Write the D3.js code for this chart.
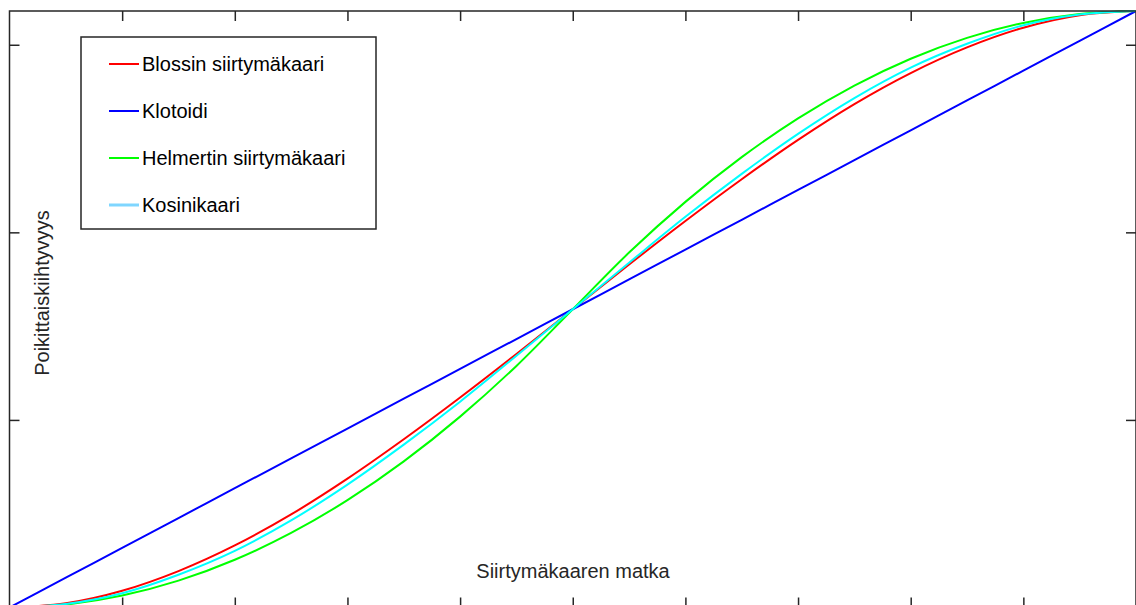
<!DOCTYPE html>
<html>
<head>
<meta charset="utf-8">
<script src="https://cdn.jsdelivr.net/npm/d3@7"></script>
<style>
  html, body { margin: 0; padding: 0; background: #fff; }
  svg { display: block; font-family: "Liberation Sans", Arial, sans-serif; }
</style>
</head>
<body>
<div id="chart"></div>
<script>
// distance along the transition curve (0..100 %)
const distance = [0, 5, 10, 15, 20, 25, 30, 35, 40, 45, 50, 55, 60, 65, 70, 75, 80, 85, 90, 95, 100];

// lateral acceleration as a share of the final value
const bloss    = [0, 0.007, 0.028, 0.061, 0.104, 0.156, 0.216, 0.282, 0.352, 0.425, 0.5, 0.575, 0.648, 0.718, 0.784, 0.844, 0.896, 0.939, 0.972, 0.993, 1];
const klotoidi = [0, 0.05, 0.1, 0.15, 0.2, 0.25, 0.3, 0.35, 0.4, 0.45, 0.5, 0.55, 0.6, 0.65, 0.7, 0.75, 0.8, 0.85, 0.9, 0.95, 1];
const helmert  = [0, 0.005, 0.02, 0.045, 0.08, 0.125, 0.18, 0.245, 0.32, 0.405, 0.5, 0.595, 0.68, 0.755, 0.82, 0.875, 0.92, 0.955, 0.98, 0.995, 1];
const kosini   = [0, 0.006, 0.024, 0.055, 0.095, 0.146, 0.206, 0.273, 0.345, 0.422, 0.5, 0.578, 0.655, 0.727, 0.794, 0.854, 0.905, 0.945, 0.976, 0.994, 1];

const aMax = 3.18;               // final acceleration (y units)
const xTicks = [10, 20, 30, 40, 50, 60, 70, 80, 90];
const yTicks = [1, 2, 3];

const seriesNames  = ["Blossin siirtymäkaari", "Klotoidi", "Helmertin siirtymäkaari", "Kosinikaari"];
const seriesValues = [bloss, klotoidi, helmert, kosini];
const seriesColors = ["#ff0000", "#0000ff", "#00ff00", "#00ffff"];
const legendColors = ["#ff0000", "#0000ff", "#00ff00", "#7fd6ff"];

const width = 1136, height = 605;
const box = { left: 9.5, right: 1136, top: 11, bottom: 607.5 };

const svg = d3.select("#chart").append("svg")
    .attr("width", width)
    .attr("height", height);

const x = d3.scaleLinear().domain([0, 100]).range([box.left, box.right]);
const y = d3.scaleLinear().domain([0, aMax]).range([box.bottom, box.top]);

const axisColor = "#262626";
const tickLen = 10;
const fontSize = 20;

// curves
const line = d3.line()
    .x(d => x(d[0]))
    .y(d => y(d[1] * aMax))
    .curve(d3.curveMonotoneX);

svg.append("clipPath").attr("id", "plot-clip")
    .append("rect")
    .attr("x", box.left).attr("y", box.top - 2)
    .attr("width", box.right - box.left).attr("height", box.bottom - box.top + 2);

const plot = svg.append("g").attr("clip-path", "url(#plot-clip)");

// draw order: Bloss, Klotoidi, Helmert, Kosini
seriesValues.forEach((vals, i) => {
    plot.append("path")
        .datum(distance.map((d, j) => [d, vals[j]]))
        .attr("fill", "none")
        .attr("stroke", seriesColors[i])
        .attr("stroke-width", 2)
        .attr("d", line);
});

// axes box with inward ticks on all sides
const axes = svg.append("g");

axes.append("g")
    .attr("transform", `translate(0,${box.top})`)
    .call(d3.axisBottom(x).tickValues(xTicks).tickSize(tickLen).tickFormat(""));
axes.append("g")
    .attr("transform", `translate(0,${box.bottom})`)
    .call(d3.axisTop(x).tickValues(xTicks).tickSize(tickLen).tickFormat(""));
axes.append("g")
    .attr("transform", `translate(${box.left},0)`)
    .call(d3.axisRight(y).tickValues(yTicks).tickSize(tickLen).tickFormat(""));
axes.append("g")
    .attr("transform", `translate(${box.right},0)`)
    .call(d3.axisLeft(y).tickValues(yTicks).tickSize(tickLen).tickFormat(""));

axes.selectAll(".domain").remove();
axes.selectAll(".tick line")
    .attr("stroke", axisColor)
    .attr("stroke-width", 1.5);

axes.append("rect")
    .attr("x", box.left).attr("y", box.top)
    .attr("width", box.right - box.left).attr("height", box.bottom - box.top)
    .attr("fill", "none")
    .attr("stroke", axisColor)
    .attr("stroke-width", 1.5);

// axis labels
svg.append("text")
    .attr("x", 573)
    .attr("y", 578)
    .attr("text-anchor", "middle")
    .attr("font-size", fontSize)
    .attr("fill", axisColor)
    .text("Siirtymäkaaren matka");

svg.append("text")
    .attr("transform", "translate(49,293) rotate(-90)")
    .attr("text-anchor", "middle")
    .attr("font-size", fontSize)
    .attr("fill", axisColor)
    .text("Poikittaiskiihtyvyys");

// legend
const legend = svg.append("g").attr("transform", "translate(81,37)");

legend.append("rect")
    .attr("width", 295)
    .attr("height", 192)
    .attr("fill", "#fff")
    .attr("stroke", axisColor)
    .attr("stroke-width", 1.5);

const rowY = d3.scalePoint().domain(seriesNames).range([27, 168]);

const rows = legend.selectAll("g.row")
    .data(seriesNames)
    .join("g")
    .attr("class", "row")
    .attr("transform", d => `translate(0,${rowY(d)})`);

rows.append("line")
    .attr("x1", 28).attr("x2", 58)
    .attr("stroke", (d, i) => legendColors[i])
    .attr("stroke-width", (d, i) => i === 3 ? 3 : 2);

rows.append("text")
    .attr("x", 61)
    .attr("dy", "0.35em")
    .attr("font-size", fontSize)
    .attr("fill", "#000")
    .text(d => d);
</script>
</body>
</html>
